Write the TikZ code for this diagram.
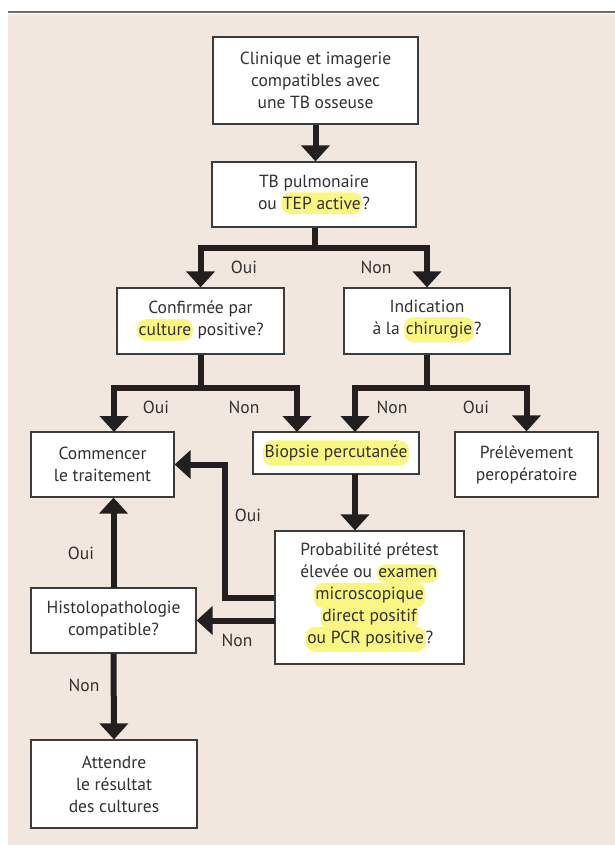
\documentclass[tikz,border=0pt]{standalone}
\usepackage{fontspec}
\setmainfont{PT Sans}
\usetikzlibrary{arrows.meta,calc}
\definecolor{bg}{RGB}{242,231,222}
\definecolor{hly}{RGB}{250,246,130}
\definecolor{ink}{RGB}{35,31,32}
\definecolor{txt}{RGB}{51,48,48}
\definecolor{rulec}{RGB}{110,110,110}
\definecolor{bord}{RGB}{60,60,60}
\newcommand{\hlw}[1]{\tikz[baseline]\node[fill=hly,rounded corners=9pt,inner xsep=1.5pt,inner ysep=4.5pt,minimum width=0pt,minimum height=0pt,anchor=base,text=txt,draw=none] (hlnode) {#1};}
\tikzset{
  box/.style={draw=bord,line width=1.2pt,fill=white,align=center,text=txt,inner sep=0pt,
    font=\fontsize{17.5}{22}\selectfont, execute at begin node={\lineskiplimit=-100pt}},
  link/.style={draw=ink,line width=6pt},
  arr/.style={link,-{Triangle[width=28pt,length=16pt]}},
  lab/.style={text=txt,font=\fontsize{17.5}{22}\selectfont,inner sep=0pt}
}
\begin{document}
\begin{tikzpicture}[x=1pt,y=-1pt]
\useasboundingbox (0,0) rectangle (615,845);
\fill[white] (0,0) rectangle (615,845);
\fill[bg] (8,14) rectangle (615,845);
\draw[rulec,line width=2pt] (8,12) -- (615,12);

\node[box,minimum width=205pt,minimum height=87pt] (b1) at (315.5,80.5) {Clinique et imagerie\\compatibles avec\\une TB osseuse};
\node[box,minimum width=204pt,minimum height=65pt] (b2) at (314,194.5) {TB pulmonaire\\ou \hlw{TEP active}?};
\node[box,minimum width=167pt,minimum height=66pt] (b3) at (200.5,321) {Confirmée par\\\hlw{culture} positive?};
\node[box,minimum width=166pt,minimum height=66pt] (b4) at (427,321) {Indication\\à la \hlw{chirurgie}?};
\node[box,minimum width=143pt,minimum height=65pt] (b5) at (102.5,464.5) {Commencer\\le traitement};
\node[box,minimum width=166pt,minimum height=42pt] (b6) at (336,453) {\hlw{Biopsie percutanée}};
\node[box,minimum width=143pt,minimum height=65pt] (b7) at (526.5,464.5) {Prélèvement\\peropératoire};
\node[box,minimum width=189pt,minimum height=133pt] (b8) at (369.5,597.5) {Probabilité prétest\\élevée ou \hlw{examen}\\\hlw{microscopique}\\\hlw{direct positif}\\\hlw{ou PCR positive}?};
\node[box,minimum width=165pt,minimum height=65pt] (b9) at (113.5,620.5) {Histolopathologie\\compatible?};
\node[box,minimum width=166pt,minimum height=88pt] (b10) at (114,784) {Attendre\\le résultat\\des cultures};

% connectors
\draw[arr] (b1.south) -- (b1.south |- b2.north);

\coordinate (j1) at (315,248);
\draw[link] (b2.south -| j1) -- (j1);
\draw[arr] (j1) -| (b3.north);
\draw[arr] (j1) -| (b4.north);
\node[lab] (l1) at (244,267) {Oui};
\node[lab] (l2) at (376,267) {Non};

\coordinate (j2) at (200.5,388);
\draw[link] (b3.south) -- (j2);
\coordinate (t5) at (114,432);
\coordinate (t6a) at (297,432);
\draw[arr] (j2) -| (t5);
\draw[arr] (j2) -| (t6a);
\node[lab] (l3) at (156,407) {Oui};
\node[lab] (l4) at (244,407) {Non};

\coordinate (j3) at (427,388);
\draw[link] (b4.south) -- (j3);
\coordinate (t6b) at (355,432);
\draw[arr] (j3) -| (t6b);
\draw[arr] (j3) -| (b7.north);
\node[lab] (l5) at (392,407) {Non};
\node[lab] (l6) at (476,407) {Oui};

\coordinate (s6) at (355,474);
\draw[arr] (s6) -- (s6 |- b8.north);

\coordinate (j5) at (225,597.5);
\draw[arr] (b8.west) -- (j5) |- (b5.east);
\node[lab] (l7) at (248,515) {Oui};

\coordinate (s8) at (275,620.5);
\draw[arr] (s8) -- (b9.east);
\node[lab] (l8) at (237,640) {Non};

\coordinate (s9) at (113.5,588);
\draw[arr] (s9) -- (s9 |- b5.south);
\node[lab] (l9) at (81,553) {Oui};

\draw[arr] (b9.south) -- (b10.north);
\node[lab] (l10) at (84,685) {Non};
\end{tikzpicture}
\end{document}
